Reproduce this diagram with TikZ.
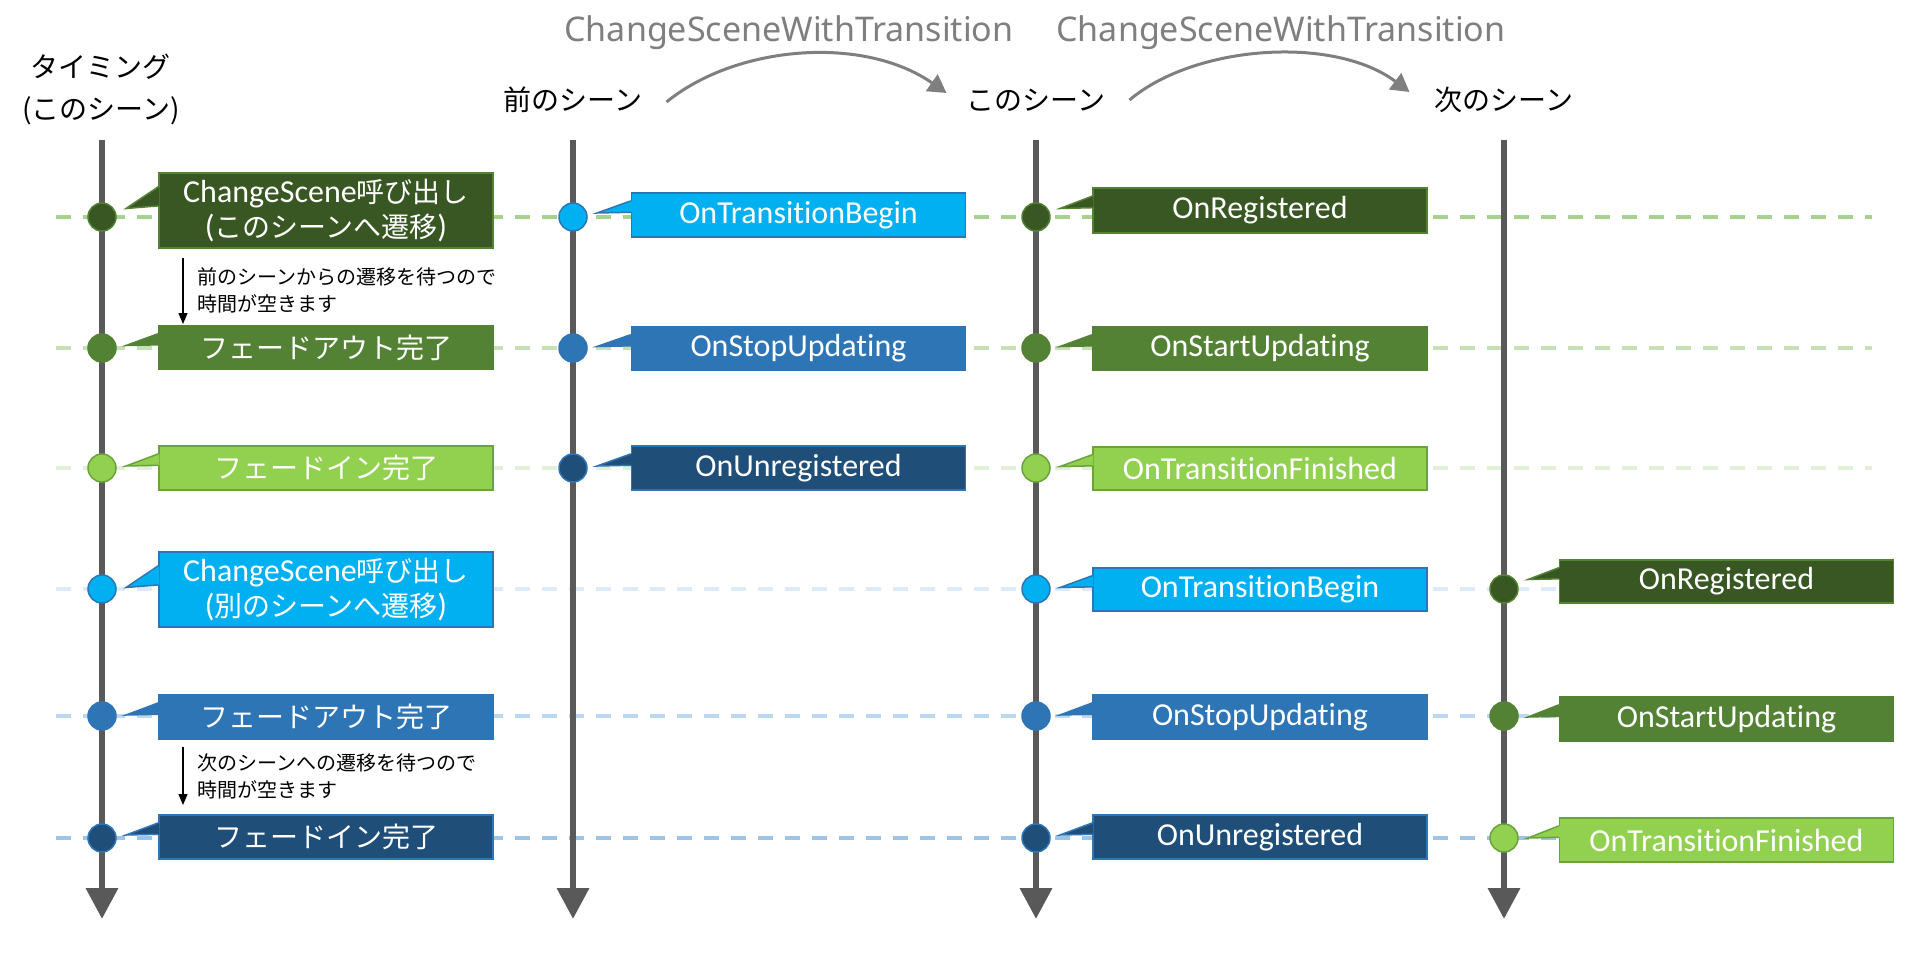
\documentclass[tikz,border=0pt]{standalone}
\usepackage{fontspec}
\setmainfont{Carlito}[Ligatures=NoCommon]
\newfontfamily\jp{Noto Sans CJK JP}
\newfontfamily\ttlfont{Noto Sans}
\usetikzlibrary{arrows.meta,calc}
\definecolor{cDG}{HTML}{385723}
\definecolor{cMG}{HTML}{548235}
\definecolor{cLG}{HTML}{92D050}
\definecolor{cLB}{HTML}{00B0F0}
\definecolor{cMB}{HTML}{2E75B6}
\definecolor{cDB}{HTML}{1F4E79}
\definecolor{bDG}{HTML}{548235}
\definecolor{bLG}{HTML}{6AA33E}
\definecolor{bB}{HTML}{2E75B6}
\definecolor{cTL}{HTML}{595959}
\definecolor{cTT}{HTML}{7F7F7F}
\definecolor{r1c}{HTML}{A9D18E}
\definecolor{r2c}{HTML}{C5E0B4}
\definecolor{r3c}{HTML}{E2F0D9}
\definecolor{r4c}{HTML}{DEEBF7}
\definecolor{r5c}{HTML}{BDD7EE}
\definecolor{r6c}{HTML}{9DC3E6}
\newcommand\J[1]{{\jp\fontsize{28}{35}\selectfont #1}}
\tikzset{
  evbox/.style={rectangle, minimum width=334pt, inner sep=0pt, line width=1.5pt, text=white, font=\fontsize{32}{35}\selectfont, align=center},
  dg/.style={fill=cDG, draw=bDG},
  mg/.style={fill=cMG, draw=bDG},
  lg/.style={fill=cLG, draw=bLG},
  lb/.style={fill=cLB, draw=bB},
  mb/.style={fill=cMB, draw=bB},
  db/.style={fill=cDB, draw=bB},
  evdot/.style={circle, minimum size=28pt, inner sep=0pt, line width=1.5pt},
  rowline/.style={line width=4pt, dash pattern=on 15pt off 12pt},
  timeline/.style={line width=6.5pt, draw=cTL, -{Triangle[width=31pt,length=31pt]}},
  arc/.style={line width=3pt, draw=cTT, -{Triangle[width=20pt,length=18pt]}},
  ttl/.style={font=\ttlfont\fontsize{34}{40}\selectfont, text=cTT, inner sep=0pt},
  toplbl/.style={font=\jp\fontsize{28}{42}\selectfont, align=center, inner sep=0pt},
  note/.style={font=\jp\fontsize{20}{27}\selectfont, align=left, inner sep=0pt, anchor=west},
  notearrow/.style={line width=1.3pt, -{Triangle[width=9pt,length=11pt]}},
}
\newcommand\evt[7]{%
  \node[evbox,#5,minimum height=#4pt] (#1) at (#2,#3) {#7};
  \fill[#5,draw=none] ($(#1.north west)!0.19!(#1.south west)+(1.2,0)$) -- ($(#6.center |- #1.west)+(24,-2)$) -- ($(#1.north west)!0.44!(#1.south west)+(1.2,0)$) -- cycle;
  \draw[#5,fill=none,line width=1.5pt] ($(#1.north west)!0.19!(#1.south west)$) -- ($(#6.center |- #1.west)+(24,-2)$) -- ($(#1.north west)!0.44!(#1.south west)$);
}
\begin{document}
\begin{tikzpicture}[x=1pt,y=-1pt]
\fill[white] (0,0) rectangle (1920,956);
\useasboundingbox (0,0) rectangle (1920,956);

% row dashed lines
\foreach \n/\yy in {1/217,2/348,3/468,4/589,5/716,6/838}{
  \coordinate (r\n a) at (56,\yy);
  \coordinate (r\n b) at (1872,\yy);
}
\draw[rowline, draw=r1c] (r1a) -- (r1b);
\draw[rowline, draw=r2c] (r2a) -- (r2b);
\draw[rowline, draw=r3c] (r3a) -- (r3b);
\draw[rowline, draw=r4c] (r4a) -- (r4b);
\draw[rowline, draw=r5c] (r5a) -- (r5b);
\draw[rowline, draw=r6c] (r6a) -- (r6b);

% timelines
\foreach \n/\xx in {1/102,2/573,3/1036,4/1504}{
  \coordinate (t\n a) at (\xx,140);
  \coordinate (t\n b) at (\xx,919);
}
\draw[timeline] (t1a) -- (t1b);
\draw[timeline] (t2a) -- (t2b);
\draw[timeline] (t3a) -- (t3b);
\draw[timeline] (t4a) -- (t4b);

% labels
\node[toplbl] (ltime) at (101,89) {タイミング\\(このシーン)};
\node[toplbl] (lprev) at (573,100) {前のシーン};
\node[toplbl] (lthis) at (1036,100) {このシーン};
\node[toplbl] (lnext) at (1504,100) {次のシーン};
\node[ttl] (tt1) at (789,33) {ChangeSceneWithTransition};
\node[ttl] (tt2) at (1281,33) {ChangeSceneWithTransition};
\draw[arc] ([xshift=24pt,yshift=-2pt]lprev.east) .. controls +(70,-57) and +(-83,-58) .. ([xshift=-20pt,yshift=7pt]lthis.west);
\draw[arc] ([xshift=24pt]lthis.east) .. controls +(65,-55) and +(-76,-57) .. ([xshift=-25pt,yshift=8pt]lnext.west);

% dots
\node[evdot,dg] (d11) at (102,217) {};
\node[evdot,mg] (d12) at (102,348) {};
\node[evdot,lg] (d13) at (102,468) {};
\node[evdot,lb] (d14) at (102,589) {};
\node[evdot,mb] (d15) at (102,716) {};
\node[evdot,db] (d16) at (102,838) {};
\node[evdot,lb] (d21) at (573,217) {};
\node[evdot,mb] (d22) at (573,348) {};
\node[evdot,db] (d23) at (573,468) {};
\node[evdot,dg] (d31) at (1036,217) {};
\node[evdot,mg] (d32) at (1036,348) {};
\node[evdot,lg] (d33) at (1036,468) {};
\node[evdot,lb] (d34) at (1036,589) {};
\node[evdot,mb] (d35) at (1036,716) {};
\node[evdot,db] (d36) at (1036,838) {};
\node[evdot,dg] (d44) at (1504,589) {};
\node[evdot,mg] (d45) at (1504,716) {};
\node[evdot,lg] (d46) at (1504,838) {};

% boxes
\evt{b11}{326}{210.5}{75}{dg}{d11}{ChangeScene\J{呼び出し}\\(\J{このシーンへ遷移})}
\evt{b12}{326}{347.5}{43}{mg}{d12}{\J{フェードアウト完了}}
\evt{b13}{326}{468}{44}{lg}{d13}{\J{フェードイン完了}}
\evt{b14}{326}{589.5}{75}{lb}{d14}{ChangeScene\J{呼び出し}\\(\J{別のシーンへ遷移})}
\evt{b15}{326}{717}{44}{mb}{d15}{\J{フェードアウト完了}}
\evt{b16}{326}{837}{44}{db}{d16}{\J{フェードイン完了}}
\evt{b21}{798.5}{215}{44}{lb}{d21}{OnTransitionBegin}
\evt{b22}{798.5}{348.5}{43}{mb}{d22}{OnStopUpdating}
\evt{b23}{798.5}{468}{44}{db}{d23}{OnUnregistered}
\evt{b31}{1260}{210.5}{45}{dg}{d31}{OnRegistered}
\evt{b32}{1260}{348.5}{43}{mg}{d32}{OnStartUpdating}
\evt{b33}{1260}{468.5}{43}{lg}{d33}{OnTransitionFinished}
\evt{b34}{1260}{589.5}{43}{lb}{d34}{OnTransitionBegin}
\evt{b35}{1260}{717}{44}{mb}{d35}{OnStopUpdating}
\evt{b36}{1260}{837}{44}{db}{d36}{OnUnregistered}
\evt{b44}{1726.5}{581.5}{43}{dg}{d44}{OnRegistered}
\evt{b45}{1726.5}{719}{44}{mg}{d45}{OnStartUpdating}
\evt{b46}{1726.5}{840}{44}{lg}{d46}{OnTransitionFinished}

% notes
\coordinate (n1s) at (183,258);
\coordinate (n1e) at (183,324);
\draw[notearrow] (n1s) -- (n1e);
\node[note] (n1) at (197,290) {前のシーンからの遷移を待つので\\時間が空きます};
\coordinate (n2s) at (183,747);
\coordinate (n2e) at (183,805);
\draw[notearrow] (n2s) -- (n2e);
\node[note] (n2) at (197,776) {次のシーンへの遷移を待つので\\時間が空きます};
\end{tikzpicture}
\end{document}
